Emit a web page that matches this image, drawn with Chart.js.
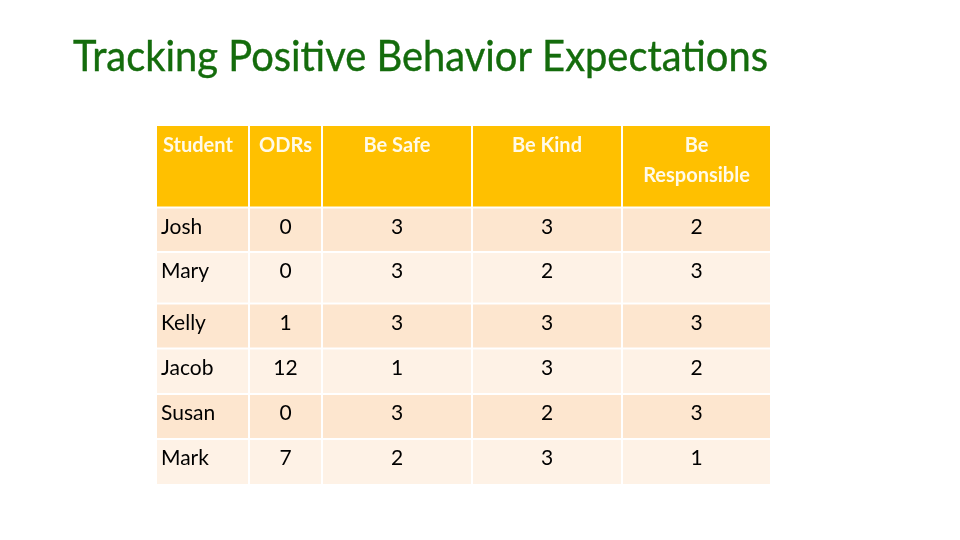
<!DOCTYPE html>
<html>
<head>
<meta charset="utf-8">
<script src="https://cdn.jsdelivr.net/npm/chart.js@4.4.7/dist/chart.umd.min.js"></script>
<style>
  html, body { margin: 0; padding: 0; background: #fff; }
  #wrap { width: 960px; height: 540px; position: relative; }
</style>
</head>
<body>
<div id="wrap"><canvas id="c"></canvas></div>
<script>
// table data
const headers = ['Student', 'ODRs', 'Be Safe', 'Be Kind', 'Be\nResponsible'];
const students = ['Josh', 'Mary', 'Kelly', 'Jacob', 'Susan', 'Mark'];
const odrs = [0, 0, 1, 12, 0, 7];
const beSafe = [3, 3, 3, 1, 3, 2];
const beKind = [3, 2, 3, 3, 2, 3];
const beResponsible = [2, 3, 3, 2, 3, 1];
const title = 'Tracking Positive Behavior Expectations';

// layout (scale units): column and row boundaries
const colEdges = [0, 93, 166, 316, 466, 614];
const rowEdges = [0, 81.5, 126, 177.5, 222.5, 268, 313, 358];

const columns = [students, odrs, beSafe, beKind, beResponsible];

const tablePlugin = {
  id: 'table',
  afterDraw(chart) {
    const ctx = chart.ctx;
    const xs = chart.scales.x, ys = chart.scales.y;
    const X = v => xs.getPixelForValue(v);
    const Y = v => ys.getPixelForValue(v);
    const gap = 1;
    ctx.save();

    // title
    ctx.font = '43px Lato';
    ctx.fillStyle = '#146c0c';
    ctx.strokeStyle = '#146c0c';
    ctx.lineWidth = 0.4;
    ctx.textBaseline = 'alphabetic';
    ctx.textAlign = 'left';
    const tw = ctx.measureText(title).width;
    ctx.save();
    ctx.translate(73, 71);
    ctx.scale(695 / tw, 1);
    ctx.fillText(title, 0, 0);
    ctx.strokeText(title, 0, 0);
    ctx.restore();

    for (let r = 0; r < rowEdges.length - 1; r++) {
      const top = Y(rowEdges[r]), bot = Y(rowEdges[r + 1]);
      const y0 = top + (r === 0 ? 0 : gap), y1 = bot - (r === rowEdges.length - 2 ? 0 : gap);
      for (let c = 0; c < colEdges.length - 1; c++) {
        const left = X(colEdges[c]), right = X(colEdges[c + 1]);
        const x0 = left + (c === 0 ? 1 : gap), x1 = right - (c === colEdges.length - 2 ? 0 : gap);
        ctx.fillStyle = r === 0 ? '#ffc000' : (r % 2 === 1 ? '#fde6cf' : '#fef2e6');
        ctx.fillRect(x0, y0, x1 - x0, y1 - y0);

        if (r === 0) {
          ctx.font = 'bold 20px Lato';
          ctx.fillStyle = '#fffae8';
          const lines = headers[c].split('\n');
          ctx.textAlign = c === 0 ? 'left' : 'center';
          const tx = c === 0 ? x0 + 6 : (x0 + x1) / 2;
          lines.forEach((ln, i) => ctx.fillText(ln, tx, top + 26 + i * 30));
        } else {
          ctx.font = '21px Lato';
          ctx.fillStyle = '#000';
          ctx.textAlign = c === 0 ? 'left' : 'center';
          const tx = c === 0 ? x0 + 4 : (x0 + x1) / 2;
          ctx.fillText(String(columns[c][r - 1]), tx, top + 26);
        }
      }
    }
    ctx.restore();
  }
};

new Chart(document.getElementById('c'), {
  type: 'scatter',
  data: { datasets: [{ data: [] }] },
  options: {
    responsive: true,
    maintainAspectRatio: false,
    animation: false,
    layout: { padding: { left: 156, right: 190, top: 126, bottom: 56 } },
    plugins: { legend: { display: false }, tooltip: { enabled: false } },
    scales: {
      x: { type: 'linear', display: false, min: colEdges[0], max: colEdges[colEdges.length - 1] },
      y: { type: 'linear', display: false, reverse: true, min: rowEdges[0], max: rowEdges[rowEdges.length - 1] }
    }
  },
  plugins: [tablePlugin]
});
</script>
</body>
</html>
